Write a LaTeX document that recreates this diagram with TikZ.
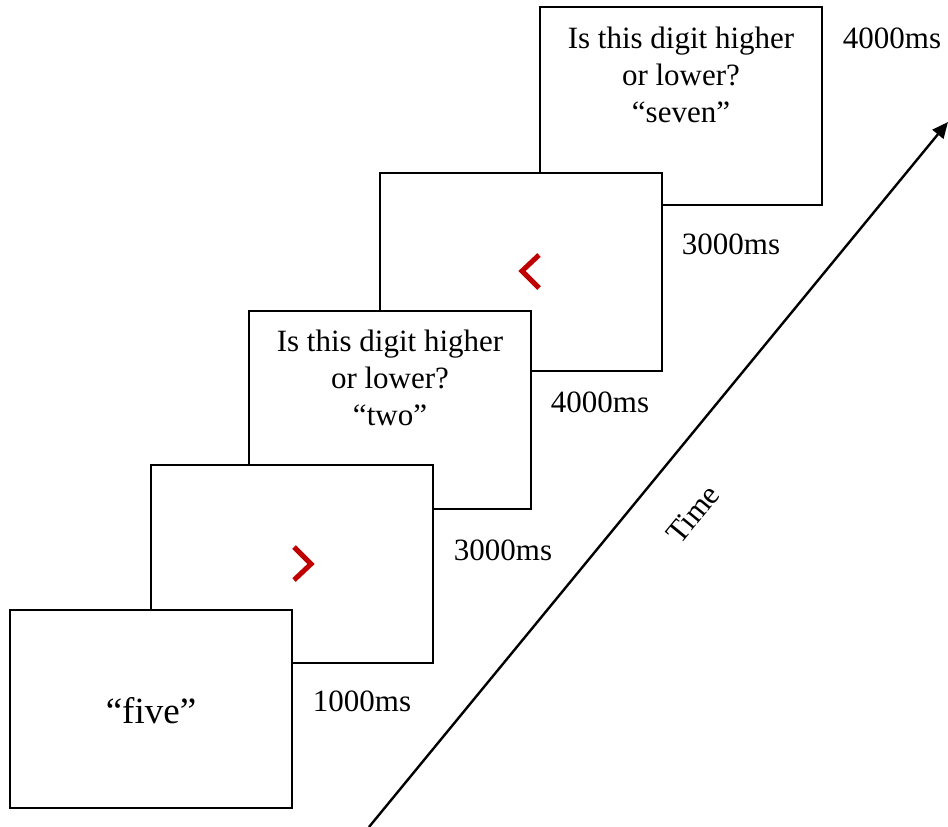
\documentclass[tikz,border=0pt]{standalone}
\usepackage{fontspec}
\setmainfont{Liberation Serif}
\usetikzlibrary{arrows.meta}
\definecolor{chev}{HTML}{C00000}
\begin{document}
\begin{tikzpicture}[x=1pt,y=-1pt,
  screen/.style={draw=black,line width=2.4pt,fill=white,minimum width=282pt,minimum height=198pt,inner sep=0pt},
  txt/.style={font=\fontsize{31}{37}\selectfont,align=center,inner sep=0pt},
  lbl/.style={font=\fontsize{31}{37}\selectfont,inner sep=0pt},
  chevron/.style={draw=chev,line width=5pt}]
\useasboundingbox (0,0) rectangle (948,827);
% screens, back to front
\node[screen] (s5) at (681,106) {};
\node[screen] (s4) at (521,272) {};
\node[screen] (s3) at (390,410) {};
\node[screen] (s2) at (292,564) {};
\node[screen] (s1) at (151,709) {};
% texts
\node[txt,anchor=north] (t5) at (681,27) {Is this digit higher\\or lower?\\``seven''};
\node[txt,anchor=north] (t3) at (390,330) {Is this digit higher\\or lower?\\``two''};
\node[txt,font=\fontsize{37}{40}\selectfont] (t1) at (151,711) {``five''};
% chevrons
\coordinate (c4a) at (539,255); \coordinate (c4b) at (522,271); \coordinate (c4c) at (539,288);
\draw[chevron] (c4a) -- (c4b) -- (c4c);
\coordinate (c2a) at (294,547); \coordinate (c2b) at (311,564); \coordinate (c2c) at (294,580);
\draw[chevron] (c2a) -- (c2b) -- (c2c);
% durations
\node[lbl] (d1) at (362,701) {1000ms};
\node[lbl] (d2) at (503,550) {3000ms};
\node[lbl] (d3) at (600,402) {4000ms};
\node[lbl] (d4) at (731,244) {3000ms};
\node[lbl] (d5) at (892,38) {4000ms};
% time arrow
\coordinate (a0) at (369,827);
\coordinate (a1) at (948,122);
\draw[line width=2.4pt,-{Triangle[length=16pt,width=14pt]}] (a0) -- (a1);
\node[lbl,rotate=50.6] (time) at (693,514) {Time};
\end{tikzpicture}
\end{document}
